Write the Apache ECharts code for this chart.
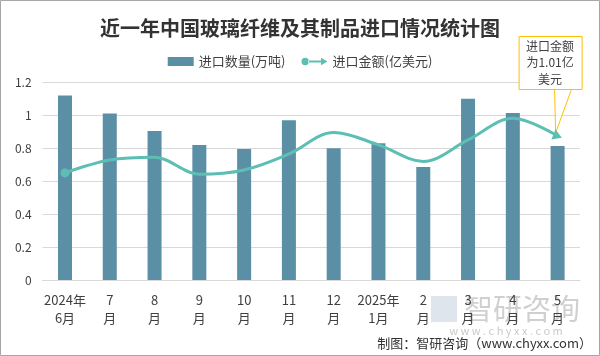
<!DOCTYPE html>
<html><head><meta charset="utf-8">
<script src="https://cdn.jsdelivr.net/npm/echarts@6/dist/echarts.min.js"></script>
<style>html,body{margin:0;padding:0;background:#fff}#c{width:600px;height:356px}</style>
</head><body><div id="c"></div>
<script>
const categories = ['2024年\n6月','7\n月','8\n月','9\n月','10\n月','11\n月','12\n月','2025年\n1月','2\n月','3\n月','4\n月','5\n月'];
const quantity = [1.12, 1.01, 0.905, 0.82, 0.795, 0.97, 0.80, 0.83, 0.686, 1.10, 1.014, 0.814];
const amount = [0.65, 0.728, 0.745, 0.642, 0.668, 0.765, 0.895, 0.82, 0.72, 0.85, 0.982, 0.874];
const yTicks = [0, 0.2, 0.4, 0.6, 0.8, 1, 1.2];
const calloutText = '进口金额\n为1.01亿\n美元';

const BAR = '#5B8FA6', LINE = '#5DBFB4', FONT = '"Noto Sans CJK SC","Noto Sans",sans-serif';
const chart = echarts.init(document.getElementById('c'), null, {renderer:'canvas'});

const lineData = amount.map((v,i)=>{
  if(i===0) return {value:v, symbol:'circle', symbolSize:9};
  if(i===amount.length-1) return {value:v, symbol:'triangle', symbolSize:[11,9], symbolRotate:-112};
  return {value:v, symbol:'none'};
});
const lineIcon = 'path://M0,5A4,4 0 1,0 8,5A4,4 0 1,0 0,5Z M7,4L22,4L22,6L7,6Z M21,1L28,5L21,9Z';

chart.setOption({
  animation:false,
  textStyle:{fontFamily:FONT},
  title:{text:'近一年中国玻璃纤维及其制品进口情况统计图', left:'center', top:13,
    textStyle:{fontSize:20, fontWeight:'bold', color:'#333', fontFamily:FONT}},
  legend:{top:50, left:'center', itemGap:16, textStyle:{fontSize:13, color:'#404040'},
    data:[{name:'进口数量(万吨)', icon:'rect', itemStyle:{color:BAR}},
          {name:'进口金额(亿美元)', icon:lineIcon, itemStyle:{color:LINE}}], itemWidth:26, itemHeight:9},
  grid:{left:42.6, right:20, top:82.3, bottom:76},
  xAxis:{type:'category', data:categories,
    axisLine:{lineStyle:{color:'#D9D9D9'}}, axisTick:{show:false},
    axisLabel:{fontSize:13, color:'#404040', lineHeight:18, margin:11, interval:0}},
  yAxis:{type:'value', min:yTicks[0], max:yTicks[yTicks.length-1], interval:0.2,
    axisLabel:{fontSize:12, color:'#404040', margin:11, formatter:v=>String(+v.toFixed(1))},
    splitLine:{lineStyle:{color:'#D9D9D9'}}, axisLine:{show:false}, axisTick:{show:false}},
  series:[
    {name:'进口数量(万吨)', type:'bar', data:quantity, barWidth:14, itemStyle:{color:BAR}},
    {name:'进口金额(亿美元)', type:'line', data:lineData, smooth:0.35, showSymbol:true,
      lineStyle:{color:LINE, width:3}, itemStyle:{color:LINE}}
  ]
});

const last = amount.length-1;
const p = chart.convertToPixel({seriesIndex:1}, [last, amount[last]]);
const bx = p[0]-39, by = p[1]-100, bw = 63, bh = 53;
chart.setOption({graphic:[
  {type:'rect', shape:{x:0.5,y:0.5,width:599,height:355}, style:{fill:'none', stroke:'#A6A6A6', lineWidth:1}, silent:true},
  {type:'polygon', shape:{points:[[bx+36,by+bh],[p[0]-2,p[1]-3],[bx+53,by+bh]]}, style:{fill:'rgba(255,255,255,0.6)', stroke:'#FFC000', lineWidth:1}},
  {type:'rect', shape:{x:bx+0.5,y:by+0.5,width:bw,height:bh}, style:{fill:'#fff', stroke:'#FFC000', lineWidth:1}},
  {type:'text', x:bx+bw/2, y:by+bh/2, style:{text:calloutText, fontSize:12, lineHeight:16.5, fill:'#404040', align:'center', verticalAlign:'middle', fontFamily:FONT}},
  {type:'rect', shape:{x:431,y:296,width:26,height:26}, style:{fill:'rgba(160,180,200,0.35)'}, silent:true},
  {type:'text', x:464, y:309, style:{text:'智研咨询', fontSize:29, fill:'rgba(150,150,150,0.45)', verticalAlign:'middle', fontFamily:FONT}, silent:true},
  {type:'text', x:506, y:331, style:{text:'w w w . c h y x x . c o m', fontSize:11, fill:'rgba(150,150,150,0.5)', align:'center', verticalAlign:'middle', fontFamily:FONT}, silent:true},
  {type:'text', x:592, y:343, style:{text:'制图：智研咨询（www.chyxx.com）', fontSize:13, fill:'#333', align:'right', verticalAlign:'middle', fontFamily:FONT}, silent:true}
]});
</script></body></html>
